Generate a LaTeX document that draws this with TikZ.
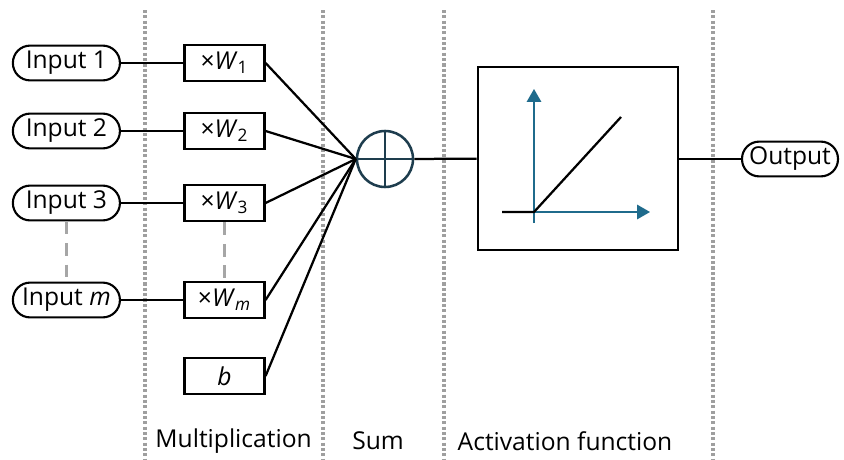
\documentclass[tikz,border=0pt]{standalone}
\usepackage{fontspec}
\setmainfont{Open Sans}
\usetikzlibrary{arrows.meta}

\definecolor{sumblue}{HTML}{1E3D4E}
\definecolor{axisblue}{HTML}{1F6B8C}

\tikzset{
    pill/.style={draw, line width=1.5pt, rounded corners=0.43cm, minimum width=2.675cm, minimum height=0.87cm, inner sep=0pt},
    wbox/.style={draw, line width=1.7pt, minimum width=2.0cm, minimum height=0.9cm, inner sep=0pt},
    stage/.style={gray!75, line width=2.6pt, dash pattern=on 2.2pt off 1.6pt},
    skip/.style={gray!70, line width=2.4pt, dash pattern=on 0.32cm off 0.22cm},
    link/.style={line width=1.6pt},
}

\begin{document}
\begin{tikzpicture}[font=\fontsize{17.5}{21}\selectfont]

    \useasboundingbox (0,0) rectangle (21.1,11.475);

    % stage separators
    \foreach \x in {3.625, 8.075, 11.1, 17.825}
    \draw[stage] (\x,11.225) -- (\x,0);

    % inputs and weights
    \foreach \i/\y/\itext in {1/9.9/1, 2/8.2/2, 3/6.4/3, m/3.975/\textit{m}}
    {
        \node[pill] (in\i) at (1.66,\y) {Input \itext};
        \node[wbox] (w\i) at (5.61,\y) {×\textit{W}\textsubscript{\itext}};
        \draw[link] (in\i) -- (w\i);
    }
    \node[wbox] (b) at (5.61,2.075) {\textit{b}};

    \draw[skip] (in3) -- (inm);
    \draw[skip] (w3) -- (wm);

    % sum
    \node[circle, draw=sumblue, line width=1.8pt, minimum size=1.4cm, inner sep=0pt] (sum) at (9.625,7.5) {};
    \draw[sumblue, line width=1.8pt] (sum.north) -- (sum.south) (sum.west) -- (sum.east);

    \foreach \n in {w1, w2, w3, wm, b}
    \draw[link] (\n.east) -- (sum.west);

    % activation
    \node[draw, line width=2pt, minimum width=5cm, minimum height=4.575cm] (act) at (14.45,7.5125) {};
    \node[pill, minimum width=2.4cm] (out) at (19.75,7.5) {Output};
    \draw[link] (sum) -- (act);
    \draw[link] (act.east |- out) -- (out);

    \coordinate (orig) at (13.35,6.175);
    \draw[axisblue, line width=0.9pt, -{Triangle[length=0.32cm, width=0.36cm]}] (13.35,5.9) -- (13.35,9.25);
    \draw[axisblue, line width=0.9pt, -{Triangle[length=0.32cm, width=0.36cm]}] (orig) -- (16.25,6.175);
    \draw[line width=1.6pt] (12.55,6.175) -- (orig) -- (15.525,8.55);

    % stage labels
    \node (lmul) at (5.84,0.45) {Multiplication};
    \node (lsum) at (9.45,0.45) {Sum};
    \node (lact) at (14.125,0.45) {Activation function};
\end{tikzpicture}
\end{document}
